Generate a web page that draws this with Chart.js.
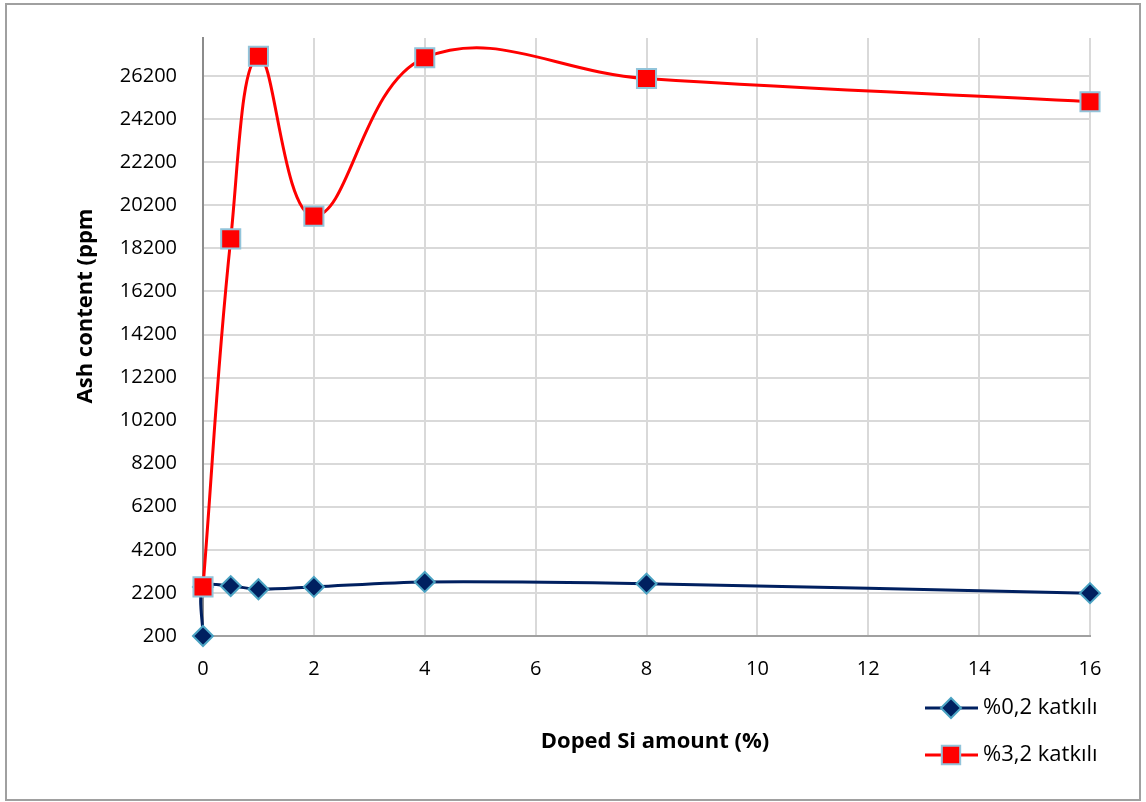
<!DOCTYPE html>
<html>
<head>
<meta charset="utf-8">
<script src="https://cdn.jsdelivr.net/npm/chart.js@4.4.0/dist/chart.umd.min.js"></script>
<style>
  html, body { margin: 0; padding: 0; background: #ffffff; }
  #wrap { position: relative; width: 1146px; height: 802px; }
  canvas { display: block; }
</style>
</head>
<body>
<div id="wrap"><canvas id="c" width="1146" height="802"></canvas></div>
<script>
// ---- data ----
const xLow  = [0, 0, 0.5, 1, 2, 4, 8, 16];
const yLow  = [200, 2480, 2520, 2370, 2480, 2710, 2630, 2190];
const xHigh = [0, 0.5, 1, 2, 4, 8, 16];
const yHigh = [2480, 18640, 27120, 19700, 27050, 26090, 25010];
const seriesNames = ['%0,2 katkılı', '%3,2 katkılı'];
const yTickValues = [200, 2200, 4200, 6200, 8200, 10200, 12200, 14200, 16200, 18200, 20200, 22200, 24200, 26200];
const xTickValues = [0, 2, 4, 6, 8, 10, 12, 14, 16];
const xTitle = 'Doped Si amount (%)';
const yTitle = 'Ash content (ppm';

const BLUE = '#002060', BLUE_EDGE = '#4ba3c3';
const RED = '#ff0000', RED_EDGE = '#92c4da';
const FONT = '"Open Sans", "Liberation Sans", sans-serif';

const toPts = (xs, ys) => xs.map((x, i) => ({x: x, y: ys[i]}));

const decor = {
  id: 'decor',
  afterDraw(chart) {
    const ctx = chart.ctx;
    ctx.save();
    // outer frame
    ctx.strokeStyle = '#a0a0a0';
    ctx.lineWidth = 2;
    ctx.strokeRect(6, 4, 1134, 796);
    // axis titles
    ctx.fillStyle = '#000000';
    ctx.font = 'bold 22px ' + FONT;
    ctx.textAlign = 'center';
    ctx.textBaseline = 'middle';
    ctx.fillText(xTitle, 655, 742);
    ctx.save();
    ctx.translate(86, 306);
    ctx.rotate(-Math.PI / 2);
    ctx.fillText(yTitle, 0, 0);
    ctx.restore();
    // legend
    const items = [
      {name: seriesNames[0], color: BLUE, edge: BLUE_EDGE, style: 'rectRot', r: 10, y: 708},
      {name: seriesNames[1], color: RED, edge: RED_EDGE, style: 'rect', r: 13, y: 755}
    ];
    items.forEach(it => {
      ctx.strokeStyle = it.color;
      ctx.lineWidth = 3;
      ctx.beginPath();
      ctx.moveTo(925, it.y);
      ctx.lineTo(978, it.y);
      ctx.stroke();
      ctx.fillStyle = it.color;
      ctx.strokeStyle = it.edge;
      ctx.lineWidth = 2;
      Chart.helpers.drawPoint(ctx, {pointStyle: it.style, radius: it.r, rotation: 0, borderWidth: 2}, 951, it.y);
      ctx.fillStyle = '#000000';
      ctx.font = '22px ' + FONT;
      ctx.textAlign = 'left';
      ctx.textBaseline = 'middle';
      ctx.fillText(it.name, 983, it.y);
    });
    ctx.restore();
  }
};

new Chart(document.getElementById('c'), {
  type: 'line',
  data: {
    datasets: [
      {
        label: seriesNames[1],
        data: toPts(xHigh, yHigh),
        borderColor: RED,
        borderWidth: 3,
        backgroundColor: RED,
        pointStyle: 'rect',
        pointRadius: 13.5,
        pointHoverRadius: 13.5,
        pointBackgroundColor: RED,
        pointBorderColor: RED_EDGE,
        pointBorderWidth: 2,
        tension: 0.4,
        clip: false,
        order: 0
      },
      {
        label: seriesNames[0],
        data: toPts(xLow, yLow),
        borderColor: BLUE,
        borderWidth: 3,
        backgroundColor: BLUE,
        pointStyle: 'rectRot',
        pointRadius: 10,
        pointHoverRadius: 10,
        pointBackgroundColor: BLUE,
        pointBorderColor: BLUE_EDGE,
        pointBorderWidth: 2,
        tension: 0.3,
        clip: false,
        order: 1
      }
    ]
  },
  options: {
    responsive: false,
    animation: false,
    devicePixelRatio: 1,
    layout: { padding: { top: 35, right: 56, left: 0, bottom: 0 } },
    elements: { line: { capBezierPoints: false } },
    plugins: {
      legend: { display: false },
      tooltip: { enabled: false },
      title: { display: false }
    },
    scales: {
      x: {
        type: 'linear',
        min: 0,
        max: 16,
        afterBuildTicks: s => { s.ticks = xTickValues.map(v => ({value: v})); },
        afterFit: s => { s.height = 166; },
        grid: { color: '#d9d9d9', lineWidth: 2, drawTicks: false },
        border: { color: '#a0a0a0', width: 2 },
        ticks: { color: '#000000', font: { family: FONT, size: 20 }, padding: 21, maxRotation: 0 },
        title: { display: false, text: xTitle }
      },
      y: {
        type: 'linear',
        min: 200,
        max: 27970,
        afterBuildTicks: s => { s.ticks = yTickValues.map(v => ({value: v})); },
        afterFit: s => { s.width = 203; },
        grid: { color: '#d9d9d9', lineWidth: 2, drawTicks: false },
        border: { color: '#8c8c8c', width: 2 },
        ticks: { color: '#000000', font: { family: FONT, size: 20 }, padding: 26, callback: v => String(v) },
        title: { display: false, text: yTitle }
      }
    }
  },
  plugins: [decor]
});
</script>
</body>
</html>
